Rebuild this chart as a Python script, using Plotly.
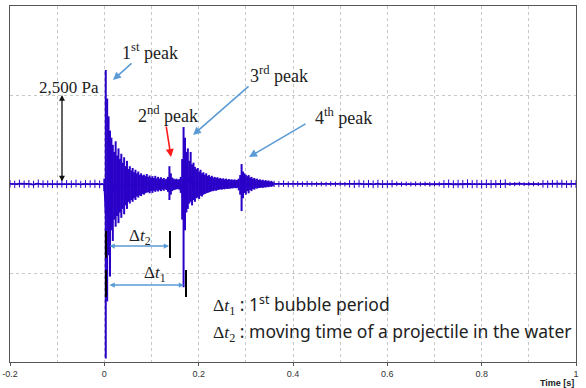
import plotly.graph_objects as go

# ---------------- data (min/max envelope per time bin, Pa) ----------------
# segment A: pre-trigger, starts -0.200 s, bin 0.005 s
A_START, A_DT = -0.200, 0.005
hi_A = [110, 25, 95, 20, 120, 25, 100, 30, 115, 20,
        90, 25, 125, 20, 105, 25, 100, 30, 115, 20,
        95, 25, 120, 20, 110, 25, 100, 30, 125, 20,
        90, 25, 115, 25, 105, 20, 120, 30, 100, 25]
lo_A = [-100, -20, -110, -25, -95, -20, -115, -25, -105, -30,
        -120, -20, -100, -25, -110, -20, -95, -25, -115, -20,
        -105, -30, -100, -20, -120, -25, -110, -20, -95, -25,
        -115, -20, -105, -30, -100, -25, -110, -20, -120, -25]

# segment B: impact and bubble pulses, starts 0.000 s, bin 0.003 s
B_START, B_DT = 0.000, 0.003
hi_B = [150, 3200, 2400, 1900, 1500, 1300, 1100, 900, 1200, 800,
        1000, 700, 850, 600, 750, 500, 650, 420, 500, 380,
        450, 330, 400, 300, 350, 260, 300, 240, 260, 220,
        280, 200, 240, 180, 220, 170, 230, 160, 200, 150,
        190, 140, 170, 130, 150, 200, 500, 300, 180, 150,
        130, 150, 120, 140, 200, 700, 1600, 1300, 900, 1000,
        650, 900, 550, 600, 480, 420, 450, 350, 400, 300,
        330, 260, 300, 230, 250, 200, 230, 180, 200, 170,
        190, 150, 170, 140, 160, 130, 150, 120, 140, 120,
        130, 110, 130, 110, 120, 150, 250, 560, 350, 300,
        260, 220, 250, 180, 200, 150, 170, 130, 150, 110,
        130, 100, 120, 90, 110, 80, 100, 70, 90, 60]
lo_B = [-200, -4900, -3300, -2000, -2600, -1300, -1600, -1000, -1200, -900,
        -1100, -800, -950, -700, -850, -600, -700, -500, -550, -450,
        -500, -400, -450, -350, -380, -320, -340, -280, -300, -260,
        -240, -230, -260, -200, -250, -190, -220, -180, -210, -170,
        -200, -160, -190, -150, -170, -220, -450, -300, -200, -170,
        -160, -150, -140, -160, -250, -1000, -2900, -1300, -800, -700,
        -550, -500, -600, -450, -500, -400, -380, -420, -330, -350,
        -300, -280, -260, -250, -230, -220, -200, -200, -180, -190,
        -170, -160, -150, -160, -140, -150, -130, -140, -130, -130,
        -120, -120, -110, -120, -110, -180, -300, -760, -400, -250,
        -300, -200, -260, -170, -200, -140, -160, -120, -130, -110,
        -110, -100, -110, -90, -100, -80, -90, -70, -80, -60]

# segment C: tail, starts 0.360 s, bin 0.005 s
C_START, C_DT = 0.360, 0.005
hi_C = [90, 25, 80, 20, 100, 30, 75, 25, 95, 20,
        85, 25, 70, 20, 90, 30, 80, 25, 65, 20,
        70, 25, 60, 20, 75, 25, 65, 30, 70, 20,
        60, 25, 110, 20, 100, 30, 120, 25, 105, 20,
        115, 25, 100, 30, 120, 20, 110, 25, 100, 30,
        115, 20, 75, 25, 65, 20, 70, 30, 60, 25,
        75, 20, 65, 25, 70, 30, 60, 20, 75, 25,
        65, 20, 110, 25, 125, 30, 105, 20, 120, 25,
        115, 30, 130, 20, 110, 25, 120, 30, 105, 20,
        125, 25, 115, 30, 110, 20, 120, 25, 130, 20,
        60, 25, 55, 20, 65, 30, 50, 25, 60, 20,
        70, 25, 55, 20, 110, 30, 100, 25, 115, 20,
        105, 25, 120, 30, 100, 20, 110, 25, 115]
lo_C = [-85, -20, -90, -25, -80, -25, -95, -20, -85, -25,
        -75, -20, -85, -25, -80, -20, -70, -30, -75, -25,
        -65, -20, -70, -25, -60, -30, -75, -20, -60, -25,
        -70, -20, -100, -25, -115, -20, -95, -30, -110, -25,
        -100, -20, -120, -25, -105, -30, -115, -20, -110, -25,
        -95, -25, -65, -20, -75, -25, -60, -20, -70, -30,
        -65, -25, -70, -20, -60, -25, -75, -30, -65, -20,
        -70, -25, -115, -20, -105, -25, -120, -30, -110, -20,
        -125, -25, -105, -20, -120, -30, -110, -25, -125, -20,
        -110, -30, -120, -25, -105, -20, -115, -30, -110, -25,
        -55, -20, -65, -25, -50, -20, -60, -30, -55, -25,
        -65, -20, -60, -25, -105, -20, -115, -30, -100, -25,
        -110, -20, -105, -25, -115, -30, -100, -20, -110]

X_TICKS = [-0.2, 0, 0.2, 0.4, 0.6, 0.8, 1.0]
X_TICK_LABELS = ["-0.2", "0", "0.2", "0.4", "0.6", "0.8", "1"]

SIG = "#2a00c8"


def columns(start, dt, hi, lo):
    xs, ys = [], []
    for i, (h, l) in enumerate(zip(hi, lo)):
        t = round(start + i * dt, 6)
        xs += [t, t, None]; ys += [l, h, None]
    return xs, ys


def midline(start, dt, hi, lo):
    return ([round(start + i * dt, 6) for i in range(len(hi))],
            [(h + l) / 2 for h, l in zip(hi, lo)])


fig = go.Figure()
mx, my = [], []
for seg in [(A_START, A_DT, hi_A, lo_A), (B_START, B_DT, hi_B, lo_B), (C_START, C_DT, hi_C, lo_C)]:
    a, b = midline(*seg); mx += a; my += b
fig.add_trace(go.Scatter(x=mx, y=my, mode="lines", line=dict(color=SIG, width=1.8), hoverinfo="skip"))
for seg, w in [((A_START, A_DT, hi_A, lo_A), 1.0), ((C_START, C_DT, hi_C, lo_C), 1.0),
               ((B_START, B_DT, hi_B, lo_B), 2.0)]:
    cx, cy = columns(*seg)
    fig.add_trace(go.Scatter(x=cx, y=cy, mode="lines", connectgaps=False,
                             line=dict(color=SIG, width=w), hoverinfo="skip"))

# ---------------- layout helpers (pixel -> data) ----------------
L, R, T, B = 10, 576, 6, 362
X0, X1, Y0, Y1 = -0.2, 1.0, -5000, 5000
def px(xp): return X0 + (xp - L) / (R - L) * (X1 - X0)
def py(yp): return Y1 - (yp - T) / (B - T) * (Y1 - Y0)

SERIF = "Liberation Serif"
SANS = "Noto Sans"
BLUE = "#5b9bd5"

ann = []
for txt, cx, cy in [("1<sup>st</sup> peak", 150, 51), ("2<sup>nd</sup> peak", 168, 114),
                    ("3<sup>rd</sup> peak", 279, 74), ("4<sup>th</sup> peak", 343, 116)]:
    ann.append(dict(x=px(cx), y=py(cy), text=txt, showarrow=False,
                    font=dict(family=SERIF, size=18, color="#222")))
for (tx, ty), (hx, hy), col in [((133, 62), (113, 80), BLUE), ((166, 125), (171, 157), "#ff1a1a"),
                                ((250, 85), (193, 135), BLUE), ((307, 123), (249, 157), BLUE)]:
    ann.append(dict(x=px(hx), y=py(hy), ax=tx - hx, ay=ty - hy, text="", showarrow=True,
                    arrowhead=2, arrowsize=1, arrowwidth=1.6, arrowcolor=col, standoff=0))
ann.append(dict(x=px(62), y=2500, ax=0, ay=88, text="", showarrow=True, arrowside="end+start",
                arrowhead=2, arrowsize=0.9, arrowwidth=1.3, arrowcolor="#111", standoff=0,
                startstandoff=0, startarrowhead=2, startarrowsize=0.9))
ann.append(dict(x=px(101), y=py(87), text="2,500 Pa", showarrow=False, xanchor="right",
                font=dict(family=SERIF, size=17, color="#222")))
for (x0p, x1p, yp) in [(108, 169, 246), (108, 184, 285)]:
    ann.append(dict(x=px(x1p), y=py(yp), ax=x0p - x1p, ay=0, text="", showarrow=True,
                    arrowside="end+start", arrowhead=2, arrowsize=0.7, arrowwidth=1.5,
                    startarrowhead=2, startarrowsize=0.7, arrowcolor=BLUE, standoff=0, startstandoff=0))
ann.append(dict(x=px(140), y=py(237), text="Δ<i>t</i><sub>2</sub>", showarrow=False,
                font=dict(family=SERIF, size=17, color="#222")))
ann.append(dict(x=px(155), y=py(274), text="Δ<i>t</i><sub>1</sub>", showarrow=False,
                font=dict(family=SERIF, size=17, color="#222")))
ann.append(dict(x=px(211), y=py(304), xanchor="left", showarrow=False,
                text="<span style='font-family:Liberation Serif'>Δ<i>t</i><sub>1</sub></span> : 1<sup>st</sup> bubble period",
                font=dict(family=SANS, size=17.5, color="#222")))
ann.append(dict(x=px(211), y=py(332), xanchor="left", showarrow=False,
                text="<span style='font-family:Liberation Serif'>Δ<i>t</i><sub>2</sub></span> : moving time of a projectile in the water",
                font=dict(family=SANS, size=17.5, color="#222")))
ann.append(dict(xref="paper", yref="paper", x=1, y=-(383 - B) / (B - T), xanchor="right",
                yanchor="middle", text="<b>Time [s]</b>", showarrow=False,
                font=dict(family="Liberation Sans", size=9, color="#222")))

shapes = []
for xp, y0p, y1p in [(106, 231, 258), (170, 231, 258), (106, 270, 297), (186, 270, 297)]:
    shapes.append(dict(type="line", x0=px(xp), x1=px(xp), y0=py(y0p), y1=py(y1p),
                       line=dict(color="#000", width=2)))

fig.update_layout(
    width=586, height=388, margin=dict(l=L, r=586 - R, t=T, b=388 - B, autoexpand=False),
    paper_bgcolor="white", plot_bgcolor="white", showlegend=False,
    annotations=ann, shapes=shapes,
    xaxis=dict(range=[X0, X1], tickvals=X_TICKS, ticktext=X_TICK_LABELS, automargin=False,
               showgrid=False, zeroline=False, showline=True, mirror=True,
               linecolor="#555", linewidth=1, ticks="outside", ticklen=3, tickcolor="#555",
               tickfont=dict(family="Liberation Sans", size=9, color="#333"),
               minor=dict(dtick=0.1, tick0=0, showgrid=True, gridcolor="#c8c8c8",
                          griddash="dot", gridwidth=1, ticks="")),
    yaxis=dict(range=[Y0, Y1], tickvals=[-2500, 0, 2500], showticklabels=False, automargin=False,
               showgrid=True, gridcolor="#c8c8c8", griddash="dot", gridwidth=1,
               zeroline=False, showline=True, mirror=True, linecolor="#555", linewidth=1,
               ticks=""),
)
fig.write_html("out.html", config={"displayModeBar": False},
               post_script="document.body.style.margin='0';document.body.style.padding='0';")
